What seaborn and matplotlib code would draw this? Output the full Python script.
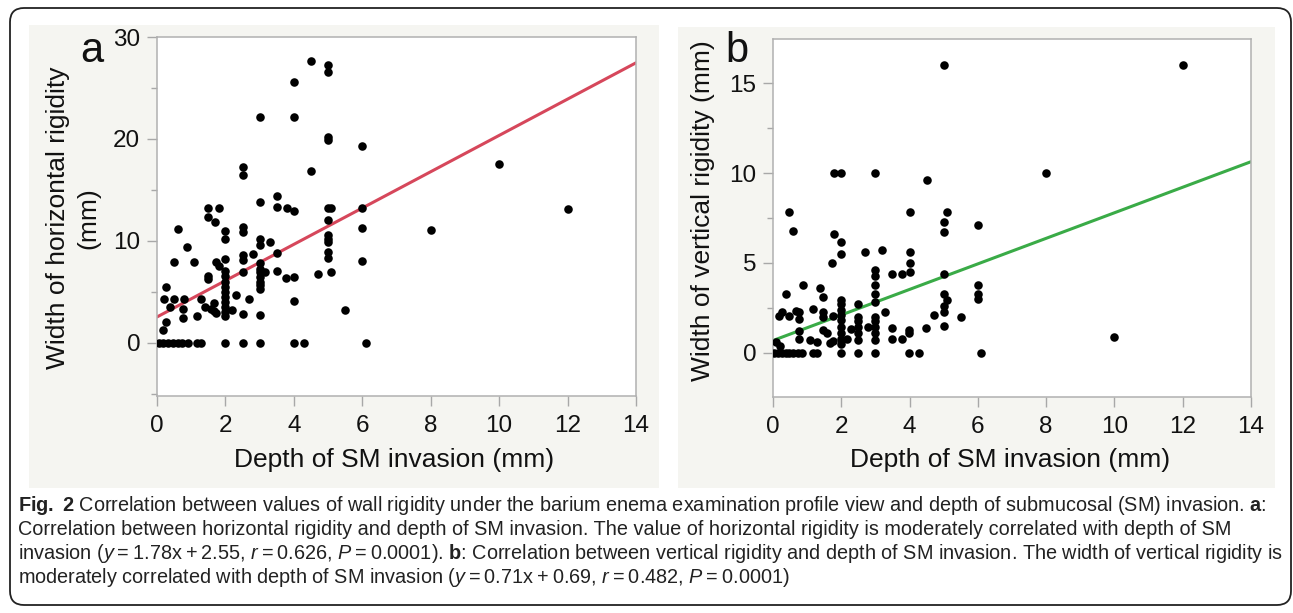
import matplotlib
matplotlib.use("Agg")
import matplotlib.pyplot as plt
import matplotlib.font_manager as fm
from matplotlib.patches import FancyBboxPatch, Rectangle
from matplotlib.ticker import MultipleLocator
import seaborn as sns

# panel a: depth of SM invasion (mm) vs width of horizontal rigidity (mm)
a_depth = [4.5, 5, 5, 4, 3, 4, 5, 5, 6, 2.5, 2.5, 4.5, 3.5, 3, 3.5, 3.8, 4, 5, 5.1, 6,
           5, 6, 1.5, 1.8, 1.5, 1.7, 0.6, 2, 2.5,
           2, 2.5, 0.87, 3, 3, 3.3, 5, 5, 5, 6, 5, 5, 0.5, 1.07, 2.5, 2.5, 2.8, 3.5, 1.73, 1.8, 2,
           2, 2, 2, 2, 2, 2, 2, 2, 2, 2,
           2.5,
           3, 3, 3, 3, 3, 3, 3,
           3.17, 3.5, 3.77, 4, 4.7, 5.08, 1.48, 1.48, 0.27, 2.3, 2.7, 4, 0.2, 0.5, 0.8, 1.3,
           0.37, 0.77, 1.4, 1.58, 1.68, 1.68, 2.2, 1.73, 2.5, 3, 0.27, 0.77, 1.18, 0.18, 5.5,
           0.07, 0.18, 0.33, 0.48, 0.62, 0.72, 0.92, 1.16, 1.3, 2, 2.5, 3, 4, 4.3, 6.1,
           8, 10, 12]
a_width = [27.6, 27.3, 26.6, 25.6, 22.2, 22.2, 19.9, 20.2, 19.3, 17.3, 16.5, 16.9, 14.4, 13.8, 13.3, 13.2, 12.9, 13.2, 13.2, 13.2,
           12.1, 11.3, 13.2, 13.2, 12.4, 11.9, 11.2, 11.0, 11.4,
           10.2, 10.9, 9.4, 10.2, 9.6, 9.9, 10.6, 10.2, 9.9, 8.0, 8.9, 8.3, 7.9, 7.9, 8.6, 8.1, 8.7, 8.8, 7.9, 7.5, 8.2,
           7.1, 6.6, 6.0, 5.5, 5.0, 4.5, 4.0, 3.5, 3.0, 2.6,
           7.0,
           7.8, 7.3, 7.0, 6.5, 6.0, 5.7, 5.3,
           7.0, 7.1, 6.4, 6.5, 6.8, 7.0, 6.6, 6.3, 5.5, 4.7, 4.3, 4.1, 4.3, 4.3, 4.3, 4.3,
           3.5, 3.3, 3.5, 3.3, 3.9, 3.1, 3.2, 2.9, 2.8, 2.7, 2.1, 2.4, 2.6, 1.3, 3.2,
           0, 0, 0, 0, 0, 0, 0, 0, 0, 0, 0, 0, 0, 0, 0,
           11.1, 17.5, 13.1]

# panel b: depth of SM invasion (mm) vs width of vertical rigidity (mm)
b_depth = [4.5, 0.47, 4, 5.1, 5, 5, 6, 0.58, 1.8, 1.98, 1.98, 1.73, 2.7, 3.2, 4, 4, 4, 3.48, 3.77,
           2.98, 2.98, 2.98, 2.98, 2.98,
           5, 5, 5.1, 5, 5, 5, 6, 6, 6, 0.88, 1.38, 0.37, 1.47,
           1.98, 1.98, 1.98, 1.98, 1.98, 1.98, 1.98, 1.98, 1.98,
           2.48, 2.48, 2.48, 2.48, 2.48, 2.48,
           2.98, 2.98, 2.98, 2.98, 2.98,
           3.28, 1.18, 1.47, 1.47, 1.77, 0.18, 0.27, 0.48, 0.67, 0.77, 0.77, 5.52, 4.72, 4.48,
           3.48, 3.98, 3.98, 3.48, 3.77, 0.77, 0.77, 1.08, 1.28, 1.47, 1.57, 1.67, 1.77,
           2.28, 2.18, 2.77, 0.09, 0.2,
           0.04, 0.15, 0.26, 0.37, 0.48, 0.6, 0.74, 0.86, 1.16, 1.28, 1.98, 2.48, 2.98, 3.98, 4.28, 6.1,
           12, 8, 10, 5, 1.8, 2, 3]
b_width = [9.6, 7.85, 7.85, 7.85, 7.3, 6.7, 7.1, 6.8, 6.6, 6.15, 5.5, 5.0, 5.6, 5.7, 5.6, 5.0, 4.5, 4.4, 4.4,
           4.6, 4.25, 3.8, 3.3, 2.85,
           4.4, 3.3, 2.95, 2.6, 2.3, 1.5, 3.8, 3.3, 3.0, 3.8, 3.6, 3.3, 3.1,
           2.95, 2.7, 2.4, 2.1, 1.85, 1.45, 1.1, 0.76, 0.5,
           2.7, 2.0, 1.75, 1.45, 1.1, 0.72,
           2.0, 1.75, 1.45, 1.1, 0.72,
           2.25, 2.45, 2.25, 2.0, 2.05, 2.05, 2.25, 2.05, 2.35, 2.25, 1.9, 2.0, 2.1, 1.4,
           1.4, 1.3, 1.1, 0.8, 0.8, 1.2, 0.8, 0.72, 0.63, 1.3, 1.1, 0.54, 0.68,
           1.35, 0.8, 1.45, 0.63, 0.4,
           0, 0, 0, 0, 0, 0, 0, 0, 0, 0, 0, 0, 0, 0, 0, 0,
           16.0, 10.0, 0.9, 16.0, 10.0, 10.0, 10.0]

# regression lines reported in the caption
fit_range = [0, 14]
a_slope, a_intercept = 1.78, 2.55
b_slope, b_intercept = 0.71, 0.69

a_yticks = [0, 10, 20, 30]
b_yticks = [0, 5, 10, 15]
x_ticks = [0, 2, 4, 6, 8, 10, 12, 14]

sns.set_theme(style="white")
plt.rcParams['font.family'] = ['Liberation Sans', 'DejaVu Sans']

installed = {f.name for f in fm.fontManager.ttflist}
cap_font = 'Liberation Sans Narrow' if 'Liberation Sans Narrow' in installed else 'Liberation Sans'
plt.rcParams['mathtext.fontset'] = 'custom'
plt.rcParams['mathtext.rm'] = cap_font
plt.rcParams['mathtext.it'] = cap_font + ':italic'
plt.rcParams['mathtext.bf'] = cap_font + ':bold'

W, H = 1293, 613
fig = plt.figure(figsize=(W / 100, H / 100), dpi=100)
fig.patch.set_facecolor('white')


def box(x0, y0, x1, y1):
    # pixel box (top-left origin) -> figure fraction rect
    return [x0 / W, 1 - y1 / H, (x1 - x0) / W, (y1 - y0) / H]


def px(x, y):
    return x / W, 1 - y / H


# background layer in pixel coordinates: frame and grey panels
bg = fig.add_axes([0, 0, 1, 1], zorder=-1)
bg.set_xlim(0, W)
bg.set_ylim(H, 0)
bg.axis('off')
bg.add_patch(FancyBboxPatch((10, 8), 1291 - 10, 605 - 8,
                            boxstyle="round,pad=0,rounding_size=14",
                            facecolor='none', edgecolor='#222222', linewidth=1.3))
bg.add_patch(Rectangle((29, 25), 659 - 29, 488 - 25, facecolor='#f5f5f1', edgecolor='none'))
bg.add_patch(Rectangle((678, 27), 1275 - 678, 488 - 27, facecolor='#f5f5f1', edgecolor='none'))

ax_a = fig.add_axes(box(157, 37, 636, 396))
ax_b = fig.add_axes(box(773, 39, 1251, 397))

panels = [
    (ax_a, a_depth, a_width, a_slope, a_intercept, '#d6475b', (-5.2, 30), a_yticks, 5),
    (ax_b, b_depth, b_width, b_slope, b_intercept, '#3aab47', (-2.45, 17.45), b_yticks, 2.5),
]

for ax, xs, ys, slope, icpt, col, ylim, yt, minor in panels:
    ax.set_facecolor('white')
    line_y = [slope * v + icpt for v in fit_range]
    sns.lineplot(x=fit_range, y=line_y, ax=ax, color=col, linewidth=2.2, zorder=2)
    sns.scatterplot(x=xs, y=ys, ax=ax, color='black', s=38, linewidth=0, zorder=3)
    ax.set_xlim(0, 14)
    ax.set_ylim(*ylim)
    ax.set_xticks(x_ticks)
    ax.set_yticks(yt)
    ax.yaxis.set_minor_locator(MultipleLocator(minor))
    ax.tick_params(axis='both', which='major', direction='out', length=7, width=1,
                   color='#a8a8a8', labelsize=17.5, labelcolor='#111111', pad=5,
                   bottom=True, left=True)
    ax.tick_params(axis='x', which='major', pad=7)
    ax.tick_params(axis='y', which='minor', direction='out', length=4, width=1,
                   color='#a8a8a8', left=True)
    for sp in ax.spines.values():
        sp.set_color('#b0b0b0')
        sp.set_linewidth(1.1)
    ax.set_xlabel('')
    ax.set_ylabel('')

# axis labels and panel letters
lab = dict(fontsize=19, color='#111111')
fig.text(*px(394, 467), 'Depth of SM invasion (mm)', ha='center', va='baseline', **lab)
fig.text(*px(1010, 467), 'Depth of SM invasion (mm)', ha='center', va='baseline', **lab)
fig.text(*px(73, 218), 'Width of horizontal rigidity\n(mm)', ha='center', va='center',
         rotation=90, linespacing=1.35, **lab)
fig.text(*px(703, 211), 'Width of vertical rigidity (mm)', ha='center', va='center',
         rotation=90, **lab)
fig.text(*px(80, 62), 'a', ha='left', va='baseline', fontsize=30, color='#111111')
fig.text(*px(725, 62), 'b', ha='left', va='baseline', fontsize=30, color='#111111')

# caption (thin spaces inside the equations, as in the original)
ts = '\u2009'
cap_lines = [
    r"$\mathbf{Fig.}$ $\mathbf{2}$ Correlation between values of wall rigidity under the barium enema "
    r"examination profile view and depth of submucosal (SM) invasion. $\mathbf{a}$:",
    "Correlation between horizontal rigidity and depth of SM invasion. The value of horizontal "
    "rigidity is moderately correlated with depth of SM",
    rf"invasion ($\mathit{{y}}${ts}={ts}1.78x{ts}+{ts}2.55, $\mathit{{r}}${ts}={ts}0.626, "
    rf"$\mathit{{P}}${ts}={ts}0.0001). $\mathbf{{b}}$: Correlation between vertical rigidity "
    "and depth of SM invasion. The width of vertical rigidity is",
    rf"moderately correlated with depth of SM invasion ($\mathit{{y}}${ts}={ts}0.71x{ts}+{ts}0.69, "
    rf"$\mathit{{r}}${ts}={ts}0.482, $\mathit{{P}}${ts}={ts}0.0001)",
]
cap_texts = []
for i, s in enumerate(cap_lines):
    t = fig.text(*px(18, 511 + 24 * i), s, ha='left', va='baseline', fontsize=12.5,
                 family=cap_font, color='#222222')
    cap_texts.append(t)

# scale caption size so the first line spans the same width as the reference
renderer = fig.canvas.get_renderer()
w0 = cap_texts[0].get_window_extent(renderer).width
scale = 1250 / w0
for t in cap_texts:
    t.set_fontsize(12.5 * scale)

fig.savefig('out.png', dpi=100)
